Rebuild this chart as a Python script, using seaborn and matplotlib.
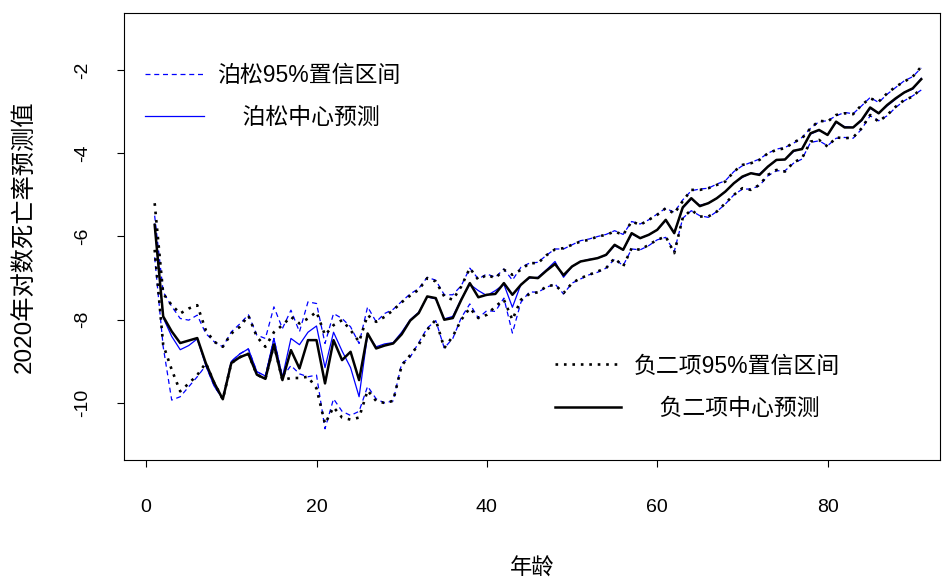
import numpy as np
import pandas as pd
import matplotlib
matplotlib.use("Agg")
import matplotlib.pyplot as plt
from matplotlib.lines import Line2D
import seaborn as sns

ages = list(range(1, 92))

nb_mid = [-5.72, -7.92, -8.28, -8.56, -8.50, -8.44, -9.04, -9.52, -9.91, -9.04,
          -8.90, -8.82, -9.32, -9.42, -8.60, -9.45, -8.73, -9.17, -8.49, -8.49,
          -9.53, -8.49, -8.97, -8.77, -9.45, -8.33, -8.69, -8.62, -8.57, -8.35,
          -8.02, -7.84, -7.44, -7.48, -8.00, -7.96, -7.52, -7.12, -7.46, -7.40,
          -7.38, -7.12, -7.40, -7.16, -6.98, -7.00, -6.82, -6.66, -6.93, -6.72,
          -6.60, -6.56, -6.52, -6.44, -6.20, -6.32, -5.92, -6.04, -5.96, -5.84,
          -5.60, -5.92, -5.30, -5.08, -5.27, -5.20, -5.08, -4.92, -4.72, -4.56,
          -4.48, -4.52, -4.32, -4.16, -4.15, -3.94, -3.90, -3.52, -3.44, -3.56,
          -3.24, -3.38, -3.38, -3.20, -2.90, -3.04, -2.84, -2.68, -2.54, -2.44,
          -2.22]

nb_hi = [-5.20, -7.37, -7.65, -7.85, -7.73, -7.65, -8.25, -8.53, -8.65, -8.33,
         -8.17, -7.90, -8.41, -8.65, -8.30, -8.13, -7.93, -8.09, -7.97, -7.81,
         -8.37, -8.13, -8.01, -8.25, -8.53, -7.89, -8.05, -7.93, -7.77, -7.58,
         -7.42, -7.28, -7.00, -7.08, -7.44, -7.52, -7.20, -6.76, -7.04, -6.92,
         -7.00, -6.80, -6.92, -6.80, -6.64, -6.64, -6.45, -6.31, -6.28, -6.20,
         -6.12, -6.08, -6.00, -5.96, -5.88, -5.96, -5.64, -5.72, -5.60, -5.48,
         -5.32, -5.45, -5.15, -4.88, -4.88, -4.84, -4.76, -4.68, -4.44, -4.28,
         -4.24, -4.16, -4.00, -3.92, -3.88, -3.74, -3.64, -3.40, -3.22, -3.24,
         -3.08, -3.04, -3.06, -2.84, -2.68, -2.76, -2.56, -2.40, -2.28, -2.16,
         -1.92]

nb_lo = [-6.32, -8.60, -9.20, -9.72, -9.53, -9.33, -9.04, -9.52, -9.91, -9.04,
         -8.90, -8.82, -9.32, -9.42, -8.60, -9.45, -9.40, -9.40, -9.37, -9.65,
         -10.50, -10.10, -10.35, -10.40, -10.35, -9.70, -9.95, -10.00, -9.95, -9.10,
         -8.85, -8.60, -8.24, -8.00, -8.68, -8.40, -8.00, -7.72, -7.96, -7.88,
         -7.68, -7.52, -8.00, -7.52, -7.38, -7.34, -7.20, -7.16, -7.36, -7.12,
         -7.00, -6.92, -6.84, -6.76, -6.52, -6.72, -6.28, -6.32, -6.20, -6.08,
         -6.00, -6.40, -5.55, -5.36, -5.52, -5.52, -5.40, -5.20, -5.00, -4.84,
         -4.88, -4.76, -4.52, -4.40, -4.44, -4.22, -4.12, -3.72, -3.68, -3.84,
         -3.62, -3.64, -3.62, -3.40, -3.08, -3.24, -3.08, -2.88, -2.72, -2.64,
         -2.44]

po_mid = [-5.70, -7.95, -8.40, -8.72, -8.62, -8.46, -9.10, -9.60, -9.90, -9.00,
          -8.82, -8.70, -9.25, -9.35, -8.45, -9.38, -8.45, -8.60, -8.30, -8.15,
          -9.15, -8.30, -8.75, -9.15, -9.85, -8.35, -8.65, -8.58, -8.55, -8.30,
          -8.00, -7.82, -7.45, -7.50, -7.98, -7.92, -7.50, -7.15, -7.30, -7.42,
          -7.30, -7.15, -7.70, -7.15, -7.00, -6.98, -6.80, -6.60, -6.98, -6.72,
          -6.60, -6.55, -6.52, -6.45, -6.22, -6.32, -5.94, -6.04, -5.96, -5.84,
          -5.62, -5.90, -5.32, -5.10, -5.25, -5.20, -5.08, -4.92, -4.72, -4.58,
          -4.48, -4.50, -4.32, -4.16, -4.15, -3.96, -3.88, -3.54, -3.45, -3.55,
          -3.26, -3.36, -3.38, -3.22, -2.92, -3.04, -2.86, -2.70, -2.54, -2.46,
          -2.20]

po_hi = [-5.50, -7.33, -7.68, -7.97, -8.01, -7.89, -8.33, -8.53, -8.65, -8.29,
         -8.10, -7.88, -8.37, -8.45, -7.69, -8.21, -7.77, -8.29, -7.57, -7.61,
         -8.57, -7.85, -7.97, -8.17, -8.57, -7.69, -8.05, -7.85, -7.75, -7.56,
         -7.38, -7.25, -6.98, -7.05, -7.40, -7.40, -7.18, -6.76, -7.02, -6.90,
         -6.98, -6.78, -7.05, -6.74, -6.64, -6.62, -6.45, -6.30, -6.30, -6.20,
         -6.10, -6.06, -6.00, -5.95, -5.86, -5.95, -5.64, -5.70, -5.60, -5.46,
         -5.32, -5.42, -5.12, -4.90, -4.86, -4.84, -4.74, -4.66, -4.44, -4.30,
         -4.22, -4.14, -4.00, -3.90, -3.86, -3.76, -3.62, -3.40, -3.24, -3.22,
         -3.10, -3.02, -3.05, -2.86, -2.66, -2.78, -2.58, -2.42, -2.26, -2.16,
         -1.95]

po_lo = [-6.50, -8.65, -9.93, -9.85, -9.61, -9.37, -9.10, -9.60, -9.90, -9.00,
         -8.82, -8.70, -9.25, -9.35, -8.45, -9.38, -9.10, -9.30, -9.37, -9.33,
         -10.62, -9.90, -10.20, -10.30, -10.20, -9.60, -9.90, -10.00, -9.95, -9.05,
         -8.90, -8.55, -8.20, -8.02, -8.68, -8.45, -7.95, -7.62, -7.96, -7.78,
         -7.80, -7.48, -8.32, -7.58, -7.33, -7.34, -7.22, -7.14, -7.38, -7.12,
         -7.02, -6.92, -6.86, -6.76, -6.54, -6.70, -6.30, -6.32, -6.22, -6.08,
         -6.02, -6.36, -5.56, -5.38, -5.50, -5.54, -5.40, -5.22, -5.00, -4.86,
         -4.86, -4.78, -4.54, -4.42, -4.42, -4.24, -4.14, -3.74, -3.70, -3.82,
         -3.64, -3.62, -3.64, -3.42, -3.10, -3.22, -3.10, -2.90, -2.74, -2.62,
         -2.48]

x_ticks = [0, 20, 40, 60, 80]
y_ticks = [-10, -8, -6, -4, -2]

plt.rcParams['font.family'] = ['Liberation Sans', 'Noto Sans CJK SC', 'DejaVu Sans']

fig = plt.figure(figsize=(9.43, 5.81), dpi=100)
ax = fig.add_axes([124/943, 1-460/581, (940-124)/943, (460-13)/581])

df = pd.DataFrame({"age": ages, "po_mid": po_mid, "po_hi": po_hi, "po_lo": po_lo,
                   "nb_mid": nb_mid, "nb_hi": nb_hi, "nb_lo": nb_lo})

blue = "#0000FF"
dash = (0, (4, 3))
dot = (0, (1, 2.2))
sns.lineplot(data=df, x="age", y="po_hi", ax=ax, color=blue, linewidth=0.9, linestyle=dash)
sns.lineplot(data=df, x="age", y="po_lo", ax=ax, color=blue, linewidth=0.9, linestyle=dash)
sns.lineplot(data=df, x="age", y="po_mid", ax=ax, color=blue, linewidth=0.9)
sns.lineplot(data=df, x="age", y="nb_hi", ax=ax, color="black", linewidth=1.9, linestyle=dot)
sns.lineplot(data=df, x="age", y="nb_lo", ax=ax, color="black", linewidth=1.9, linestyle=dot)
sns.lineplot(data=df, x="age", y="nb_mid", ax=ax, color="black", linewidth=1.8)

ax.set_xlim(-2.6, 93.2)
ax.set_ylim(-11.37, -0.63)
ax.set_xticks(x_ticks)
ax.set_yticks(y_ticks)
ax.set_xticklabels([str(v) for v in x_ticks])
ax.set_yticklabels([str(v) for v in y_ticks])
ax.tick_params(axis='both', direction='out', length=5, width=0.8, labelsize=14, color='black')
ax.tick_params(axis='x', pad=23)
ax.tick_params(axis='y', pad=19)
for lab in ax.get_yticklabels():
    lab.set_rotation(90)
    lab.set_va('center')
for s in ax.spines.values():
    s.set_linewidth(0.8)
    s.set_color('black')
ax.set_facecolor('white')
ax.grid(False)

ax.set_xlabel("年龄", fontsize=16, labelpad=31)
ax.set_ylabel("2020年对数死亡率预测值", fontsize=17.5, labelpad=27)

h1 = [Line2D([], [], color=blue, linewidth=0.9, linestyle=dash),
      Line2D([], [], color=blue, linewidth=0.9)]
leg1 = ax.legend(h1, ["泊松95%置信区间", "    泊松中心预测"], loc='upper left',
                 bbox_to_anchor=(0.003, 0.926), frameon=False, fontsize=16.5,
                 handlelength=2.6, handletextpad=0.57, labelspacing=0.8, borderpad=0.3)
ax.add_artist(leg1)
h2 = [Line2D([], [], color='black', linewidth=1.9, linestyle=dot),
      Line2D([], [], color='black', linewidth=1.8)]
ax.legend(h2, ["负二项95%置信区间", "    负二项中心预测"], loc='upper left',
          bbox_to_anchor=(0.506, 0.277), frameon=False, fontsize=16.5,
          handlelength=2.85, handletextpad=0.57, labelspacing=0.85, borderpad=0.3)

fig.savefig("out.png", dpi=100, facecolor='white')
